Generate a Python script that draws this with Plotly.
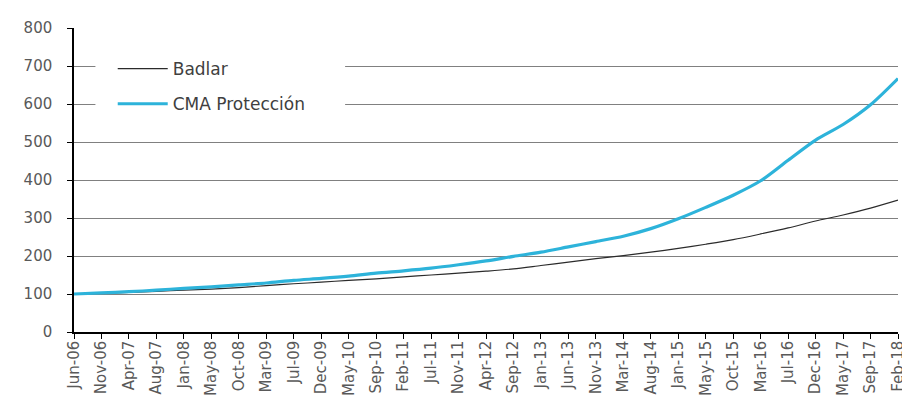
import plotly.graph_objects as go

months = ["Jun-06", "Nov-06", "Apr-07", "Aug-07", "Jan-08", "May-08", "Oct-08", "Mar-09",
          "Jul-09", "Dec-09", "May-10", "Sep-10", "Feb-11", "Jul-11", "Nov-11", "Apr-12",
          "Sep-12", "Jan-13", "Jun-13", "Nov-13", "Mar-14", "Aug-14", "Jan-15", "May-15",
          "Oct-15", "Mar-16", "Jul-16", "Dec-16", "May-17", "Sep-17", "Feb-18"]

badlar = [100, 102, 104, 107, 110, 113, 117, 122, 127, 131, 136, 140, 145, 150, 155, 160,
          166, 175, 184, 193, 201, 210, 220, 231, 243, 258, 274, 292, 308, 326, 347]

cma = [100, 103, 106, 110, 115, 119, 124, 129, 136, 141, 147, 155, 161, 168, 177, 187,
       199, 210, 224, 238, 252, 272, 298, 328, 360, 398, 452, 505, 546, 598, 667]

y_ticks = [0, 100, 200, 300, 400, 500, 600, 700, 800]

fig = go.Figure()
fig.add_trace(go.Scatter(x=months, y=badlar, name="Badlar", mode="lines",
                         line=dict(color="#2b2b2b", width=1.2, shape="spline", smoothing=0.8),
                         legendgroup="a"))
fig.add_trace(go.Scatter(x=months, y=cma, name="CMA Protección", mode="lines",
                         line=dict(color="#2DB3DA", width=3.2, shape="spline", smoothing=0.8),
                         legendgroup="b"))

fig.update_layout(
    width=910, height=399,
    margin=dict(l=66, r=11, t=15, b=74),
    paper_bgcolor="white", plot_bgcolor="white",
    font=dict(family="DejaVu Sans, sans-serif", color="#595959"),
    showlegend=True,
    legend=dict(x=0.047, y=0.924, xanchor="left", yanchor="top",
                bgcolor="rgba(0,0,0,0)", font=dict(size=17, color="#404040"),
                tracegroupgap=10, traceorder="grouped", itemwidth=50),
    shapes=[dict(type="rect", xref="paper", yref="paper", x0=0.026, x1=0.329,
                 y0=0.661, y1=0.919, fillcolor="white", line=dict(width=0),
                 layer="above")],
)
fig.update_xaxes(type="category", range=[0, 30], tickangle=-90, dtick=1,
                 showline=True, linecolor="black", linewidth=1.5,
                 ticks="outside", ticklen=5, tickcolor="black",
                 ticklabelstandoff=-4,
                 showgrid=False, tickfont=dict(size=15, color="#595959"))
fig.update_yaxes(range=[0, 800], tickvals=y_ticks, showline=True, linecolor="black",
                 linewidth=1.5, ticks="outside", ticklen=5, tickcolor="black",
                 ticklabelstandoff=12,
                 showgrid=True, gridcolor="#808080", gridwidth=1, zeroline=False,
                 tickfont=dict(size=15, color="#595959"))

fig.write_html("out.html")
